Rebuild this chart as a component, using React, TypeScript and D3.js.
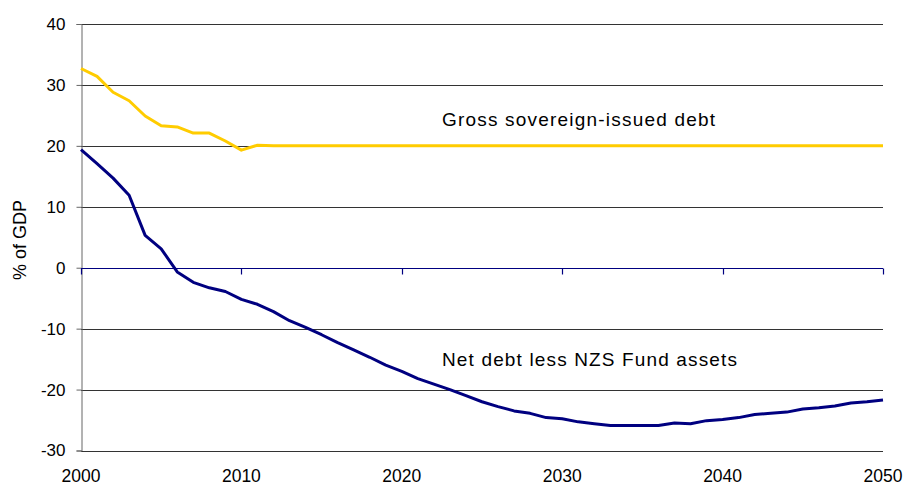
import React, { useEffect, useRef } from "react";
import * as d3 from "d3";

// years 2000..2050
const years = d3.range(2000, 2051);

const grossDebt = [
  32.7, 31.4, 28.8, 27.4, 24.9, 23.3, 23.1, 22.1, 22.1, 20.8, 19.3, 20.1, 20, 20, 20, 20, 20,
  20, 20, 20, 20, 20, 20, 20, 20, 20, 20, 20, 20, 20, 20, 20, 20, 20, 20, 20, 20, 20, 20, 20,
  20, 20, 20, 20, 20, 20, 20, 20, 20, 20, 20,
];

const netDebt = [
  19.4, 17.1, 14.7, 11.9, 5.3, 3.1, -0.7, -2.4, -3.3, -3.9, -5.2, -6.0, -7.2, -8.7, -9.8,
  -11.0, -12.3, -13.5, -14.7, -16.0, -17.0, -18.2, -19.1, -20.0, -21.0, -22.0, -22.8, -23.5,
  -23.9, -24.6, -24.8, -25.3, -25.6, -25.9, -25.9, -25.9, -25.9, -25.5, -25.6, -25.1, -24.9,
  -24.6, -24.1, -23.9, -23.7, -23.2, -23.0, -22.7, -22.2, -22.0, -21.7,
];

const yTicks = [40, 30, 20, 10, 0, -10, -20, -30];
const xTicks = [2000, 2010, 2020, 2030, 2040, 2050];

const seriesLabels = ["Gross sovereign-issued debt", "Net debt less NZS Fund assets"];

const App = () => {
  const ref = useRef<SVGSVGElement>(null);

  useEffect(() => {
    draw();
  }, []);

  const draw = () => {
    const width = 904;
    const height = 486;
    const left = 81;
    const right = 883;
    const top = 24;
    const bottom = 450.5;
    const font = "'Liberation Sans', Arial, sans-serif";

    const svg = d3.select(ref.current);
    svg.selectAll("*").remove();
    svg.attr("width", width).attr("height", height);

    const x = d3.scaleLinear().domain([2000, 2050]).range([left, right]);
    const y = d3.scaleLinear().domain([-30, 40]).range([bottom, top]);

    // gridlines
    svg
      .append("g")
      .selectAll("line")
      .data(yTicks.filter((t) => t !== 0))
      .join("line")
      .attr("x1", left)
      .attr("x2", right)
      .attr("y1", (d) => Math.round(y(d)) + 0.5)
      .attr("y2", (d) => Math.round(y(d)) + 0.5)
      .attr("stroke", "#333")
      .attr("stroke-width", 1);

    // y axis
    svg
      .append("g")
      .attr("transform", `translate(${left + 0.5},0)`)
      .call(
        d3
          .axisLeft(y)
          .tickValues(yTicks)
          .tickSize(5)
          .tickPadding(11)
          .tickFormat((d) => String(d))
      )
      .call((g) => g.select(".domain").attr("stroke", "#666"))
      .call((g) => g.selectAll(".tick line").attr("stroke", "#666"))
      .call((g) =>
        g
          .selectAll("text")
          .attr("font-family", font)
          .attr("font-size", 17)
          .attr("fill", "#000")
      );

    // category axis crossing at zero
    const zeroY = Math.round(y(0)) + 0.5;
    svg
      .append("line")
      .attr("x1", left)
      .attr("x2", right)
      .attr("y1", zeroY)
      .attr("y2", zeroY)
      .attr("stroke", "#000080")
      .attr("stroke-width", 1.2);
    svg
      .append("g")
      .selectAll("line")
      .data(xTicks)
      .join("line")
      .attr("x1", (d) => Math.round(x(d)) + 0.5)
      .attr("x2", (d) => Math.round(x(d)) + 0.5)
      .attr("y1", zeroY)
      .attr("y2", zeroY + 6)
      .attr("stroke", "#000080")
      .attr("stroke-width", 1.2);

    // x labels at the bottom
    svg
      .append("g")
      .selectAll("text")
      .data(xTicks)
      .join("text")
      .attr("x", (d) => x(d))
      .attr("y", 482)
      .attr("text-anchor", "middle")
      .attr("font-family", font)
      .attr("font-size", 17.5)
      .text((d) => d);

    // axis title
    svg
      .append("text")
      .attr("transform", `translate(26,240) rotate(-90)`)
      .attr("text-anchor", "middle")
      .attr("font-family", font)
      .attr("font-size", 18)
      .text("% of GDP");

    const line = d3
      .line<number>()
      .x((_, i) => x(years[i]))
      .y((d) => y(d));

    svg
      .append("path")
      .datum(grossDebt)
      .attr("fill", "none")
      .attr("stroke", "#FFCC00")
      .attr("stroke-width", 3)
      .attr("stroke-linejoin", "round")
      .attr("d", line);

    svg
      .append("path")
      .datum(netDebt)
      .attr("fill", "none")
      .attr("stroke", "#000080")
      .attr("stroke-width", 3)
      .attr("stroke-linejoin", "round")
      .attr("d", line);

    // series labels
    svg
      .append("text")
      .attr("x", 442)
      .attr("y", 126)
      .attr("font-family", font)
      .attr("font-size", 19)
      .attr("textLength", 273)
      .attr("lengthAdjust", "spacing")
      .text(seriesLabels[0]);

    svg
      .append("text")
      .attr("x", 442)
      .attr("y", 366)
      .attr("font-family", font)
      .attr("font-size", 19)
      .attr("textLength", 295)
      .attr("lengthAdjust", "spacing")
      .text(seriesLabels[1]);
  };

  return (
    <div style={{ position: "fixed", left: 0, top: 0, background: "#fff" }}>
      <svg ref={ref} style={{ display: "block" }} />
    </div>
  );
};

export default App;
